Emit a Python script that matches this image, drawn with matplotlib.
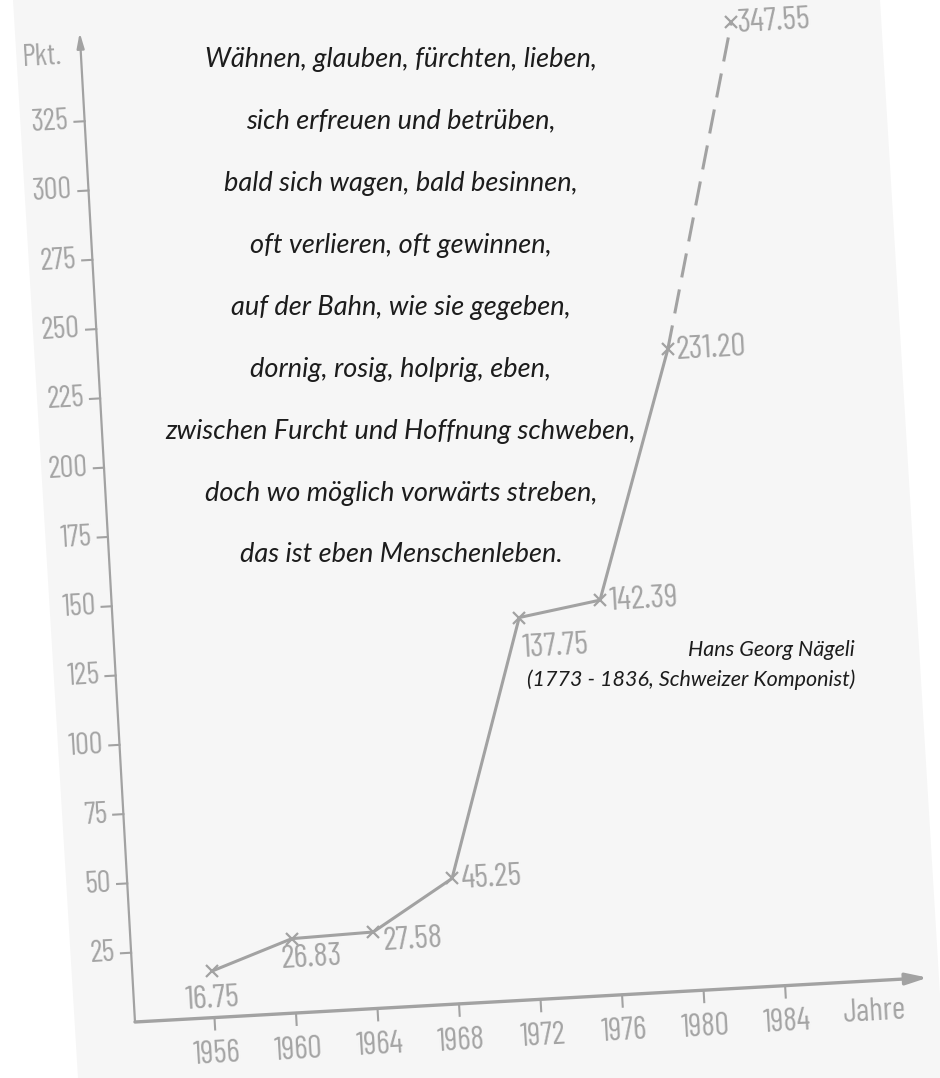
import matplotlib
matplotlib.use('Agg')
import matplotlib.pyplot as plt
from matplotlib.transforms import Affine2D, IdentityTransform
from matplotlib.patches import Polygon

# data
years = [1956, 1960, 1964, 1968, 1972, 1976, 1980, 1984]
points = [16.75, 26.83, 27.58, 45.25, 137.75, 142.39, 231.20, 347.55]
point_labels = ['16.75', '26.83', '27.58', '45.25', '137.75', '142.39', '231.20', '347.55']
x_ticks = [1956, 1960, 1964, 1968, 1972, 1976, 1980, 1984]
y_ticks = [25, 50, 75, 100, 125, 150, 175, 200, 225, 250, 275, 300, 325]

poem = [
    'Wähnen, glauben, fürchten, lieben,',
    'sich erfreuen und betrüben,',
    'bald sich wagen, bald besinnen,',
    'oft verlieren, oft gewinnen,',
    'auf der Bahn, wie sie gegeben,',
    'dornig, rosig, holprig, eben,',
    'zwischen Furcht und Hoffnung schweben,',
    'doch wo möglich vorwärts streben,',
    'das ist eben Menschenleben.',
]
author = ['Hans Georg Nägeli', '(1773 - 1836, Schweizer Komponist)']

# label offsets in pixels (dx, dy, ha, va)
label_pos = [(0, -12, 'center', 'top'), (20, -20, 'center', 'center'),
             (40, -8, 'center', 'center'), (8, 0, 'left', 'center'),
             (2, -30, 'left', 'center'), (8, 0, 'left', 'center'),
             (8, 0, 'left', 'center'), (5, 0, 'left', 'center')]

W, H = 940, 1078
gray = '#a2a2a2'
tgray = '#a4a4a4'
hand = ['Barlow Condensed', 'DejaVu Sans']
poemfont = ['Lato', 'DejaVu Sans']

fig = plt.figure(figsize=(9.4, 10.78), dpi=100)
fig.patch.set_facecolor('white')
# the scanned sheet (slightly tilted)
fig.patches.append(Polygon([[13, H], [880, H], [945, 0], [78, 0]], closed=True,
                           transform=IdentityTransform(), facecolor='#f6f6f6',
                           edgecolor='none', zorder=-10))

x0, y0 = 135, 56
xlo, xhi = 1952.1, 1991
ax = fig.add_axes([x0 / W, y0 / H, 794 / W, 991 / H])
ax.set_zorder(1)
ax.set_xlim(xlo, xhi)
ax.set_ylim(0, 357)
ax.axis('off')
ax.patch.set_alpha(0)
angle = 3.2
rot = ax.transData + Affine2D().rotate_deg_around(x0, y0, angle)

# axes with arrows
ax.annotate('', xy=(xhi, 0), xytext=(xlo, 0), xycoords=rot, textcoords=rot,
            arrowprops=dict(arrowstyle='-|>,head_length=1.3,head_width=0.35',
                            color=gray, lw=2.4, shrinkA=0, shrinkB=0))
ax.annotate('', xy=(xlo, 357), xytext=(xlo, 0), xycoords=rot, textcoords=rot,
            arrowprops=dict(arrowstyle='-|>,head_length=0.9,head_width=0.22',
                            color=gray, lw=1.6, shrinkA=0, shrinkB=0))

for yv in y_ticks:
    ax.plot([xlo - 0.5, xlo], [yv, yv], color=gray, lw=1.5, transform=rot, clip_on=False)
    ax.text(xlo - 0.75, yv, str(yv), transform=rot, rotation=angle, ha='right', va='center',
            color=tgray, family=hand, fontsize=22)

for xv in x_ticks:
    ax.plot([xv, xv], [0, -4.3], color=gray, lw=1.5, transform=rot, clip_on=False)
    ax.text(xv, -13.5, str(xv), transform=rot, rotation=angle, ha='center', va='center',
            color=tgray, family=hand, fontsize=23)

ax.text(1988.3, -11.5, 'Jahre', transform=rot, rotation=angle, ha='center', va='center',
        color=tgray, family=hand, fontsize=23)
ax.text(xlo - 1.9, 349, 'Pkt.', transform=rot, rotation=angle, ha='center', va='center',
        color=tgray, family=hand, fontsize=22)

# the curve: solid up to 1980, dashed to 1984
ax.plot(years[:-1], points[:-1], color=gray, lw=2.2, transform=rot, clip_on=False)
ax.plot(years[-2:], points[-2:], color=gray, lw=2.2, ls=(0, (8, 4)), transform=rot,
        clip_on=False)
ax.plot(years, points, ls='none', marker='x', ms=9, mew=1.6, color=gray, transform=rot,
        clip_on=False)

for yr, v, lab, (dx, dy, ha, va) in zip(years, points, point_labels, label_pos):
    ax.annotate(lab, xy=(yr, v), xycoords=rot, xytext=(dx, dy), textcoords='offset pixels',
                ha=ha, va=va, rotation=angle, color=tgray, family=hand, fontsize=24)

# poem
for i, line in enumerate(poem):
    fig.text(401 / W, 1 - (59 + 62 * i) / H, line, ha='center', va='center',
             style='italic', family=poemfont, fontsize=19.5, color='#1c1c1c', zorder=5)

fig.text(855 / W, 1 - 650 / H, author[0], ha='right', va='center', style='italic',
         family=poemfont, fontsize=15.5, color='#1c1c1c', zorder=5)
fig.text(855 / W, 1 - 680 / H, author[1], ha='right', va='center', style='italic',
         family=poemfont, fontsize=15.5, color='#1c1c1c', zorder=5)

fig.savefig('out.png', dpi=100, facecolor=fig.get_facecolor())
